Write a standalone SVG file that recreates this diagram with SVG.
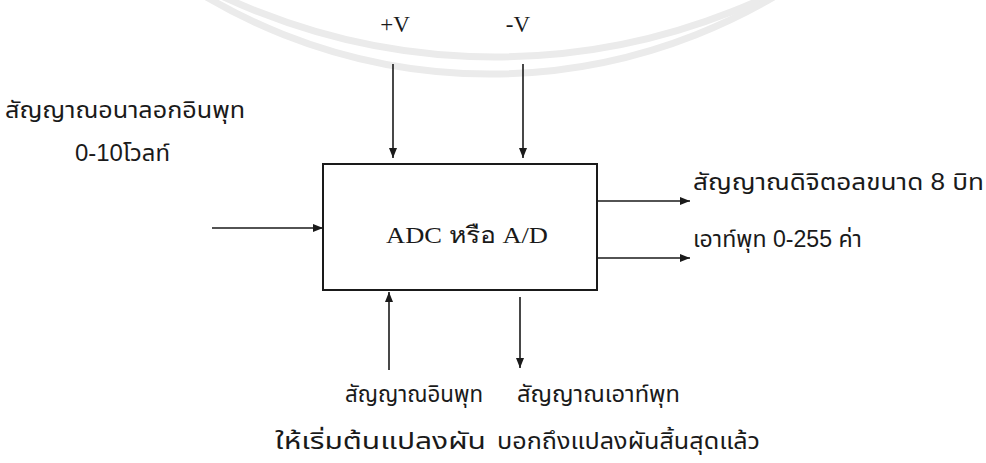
<svg xmlns="http://www.w3.org/2000/svg" width="986" height="463" viewBox="0 0 986 463">
<style>
.ln{stroke:#1a1a1a;stroke-width:1.6;fill:none}
.th{font-family:"Liberation Sans","Noto Sans Thai","Noto Sans",sans-serif;font-size:23px;fill:#1a1a1a}
.sf{font-family:"Liberation Serif",serif;font-size:23px;fill:#1a1a1a}
.wm{stroke:#ebebeb;stroke-width:7;fill:none}
</style>
<defs>
<marker id="ah" viewBox="0 0 10 10" refX="10" refY="5" markerWidth="10" markerHeight="10" markerUnits="userSpaceOnUse" orient="auto">
<path d="M0,1 L10,5 L0,9 Z" fill="#1a1a1a"/>
</marker>
</defs>
<rect width="986" height="463" fill="#ffffff"/>
<g id="watermark">
<circle class="wm" cx="495" cy="-586" r="643"/>
<circle class="wm" cx="490" cy="-486" r="560"/>
</g>
<g id="adc">
<rect x="323" y="164" width="274" height="126" fill="#ffffff" stroke="#1a1a1a" stroke-width="2"/>
<text class="sf" x="386" y="243" textLength="162" lengthAdjust="spacingAndGlyphs">ADC หรือ A/D</text>
</g>
<g id="vplus"><text class="sf" x="395" y="32" text-anchor="middle">+V</text></g>
<g id="vminus"><text class="sf" x="518" y="32" text-anchor="middle">-V</text></g>
<g id="analog-in">
<text class="th" x="5" y="118" textLength="240" lengthAdjust="spacingAndGlyphs">สัญญาณอนาลอกอินพุท</text>
<text class="th" x="75" y="161" textLength="95" lengthAdjust="spacingAndGlyphs">0-10โวลท์</text>
</g>
<g id="digital-out">
<text class="th" x="693" y="190" textLength="291" lengthAdjust="spacingAndGlyphs">สัญญาณดิจิตอลขนาด 8 บิท</text>
<text class="th" x="693" y="247" textLength="169" lengthAdjust="spacingAndGlyphs">เอาท์พุท 0-255 ค่า</text>
</g>
<g id="start-in">
<text class="th" x="345" y="402" textLength="138" lengthAdjust="spacingAndGlyphs">สัญญาณอินพุท</text>
<text class="th" x="275" y="449" textLength="211" lengthAdjust="spacingAndGlyphs">ให้เริ่มต้นแปลงผัน</text>
</g>
<g id="eoc-out">
<text class="th" x="517" y="402" textLength="163" lengthAdjust="spacingAndGlyphs">สัญญาณเอาท์พุท</text>
<text class="th" x="497" y="449" textLength="263" lengthAdjust="spacingAndGlyphs">บอกถึงแปลงผันสิ้นสุดแล้ว</text>
</g>
<g id="connectors">
<line class="ln" x1="393" y1="64" x2="393" y2="158" marker-end="url(#ah)"/>
<line class="ln" x1="523" y1="64" x2="523" y2="158" marker-end="url(#ah)"/>
<line class="ln" x1="212" y1="228" x2="323" y2="228" marker-end="url(#ah)"/>
<line class="ln" x1="597" y1="201" x2="690" y2="201" marker-end="url(#ah)"/>
<line class="ln" x1="597" y1="258" x2="690" y2="258" marker-end="url(#ah)"/>
<line class="ln" x1="389" y1="370" x2="389" y2="292" marker-end="url(#ah)"/>
<line class="ln" x1="520" y1="297" x2="520" y2="368" marker-end="url(#ah)"/>
</g>
</svg>
